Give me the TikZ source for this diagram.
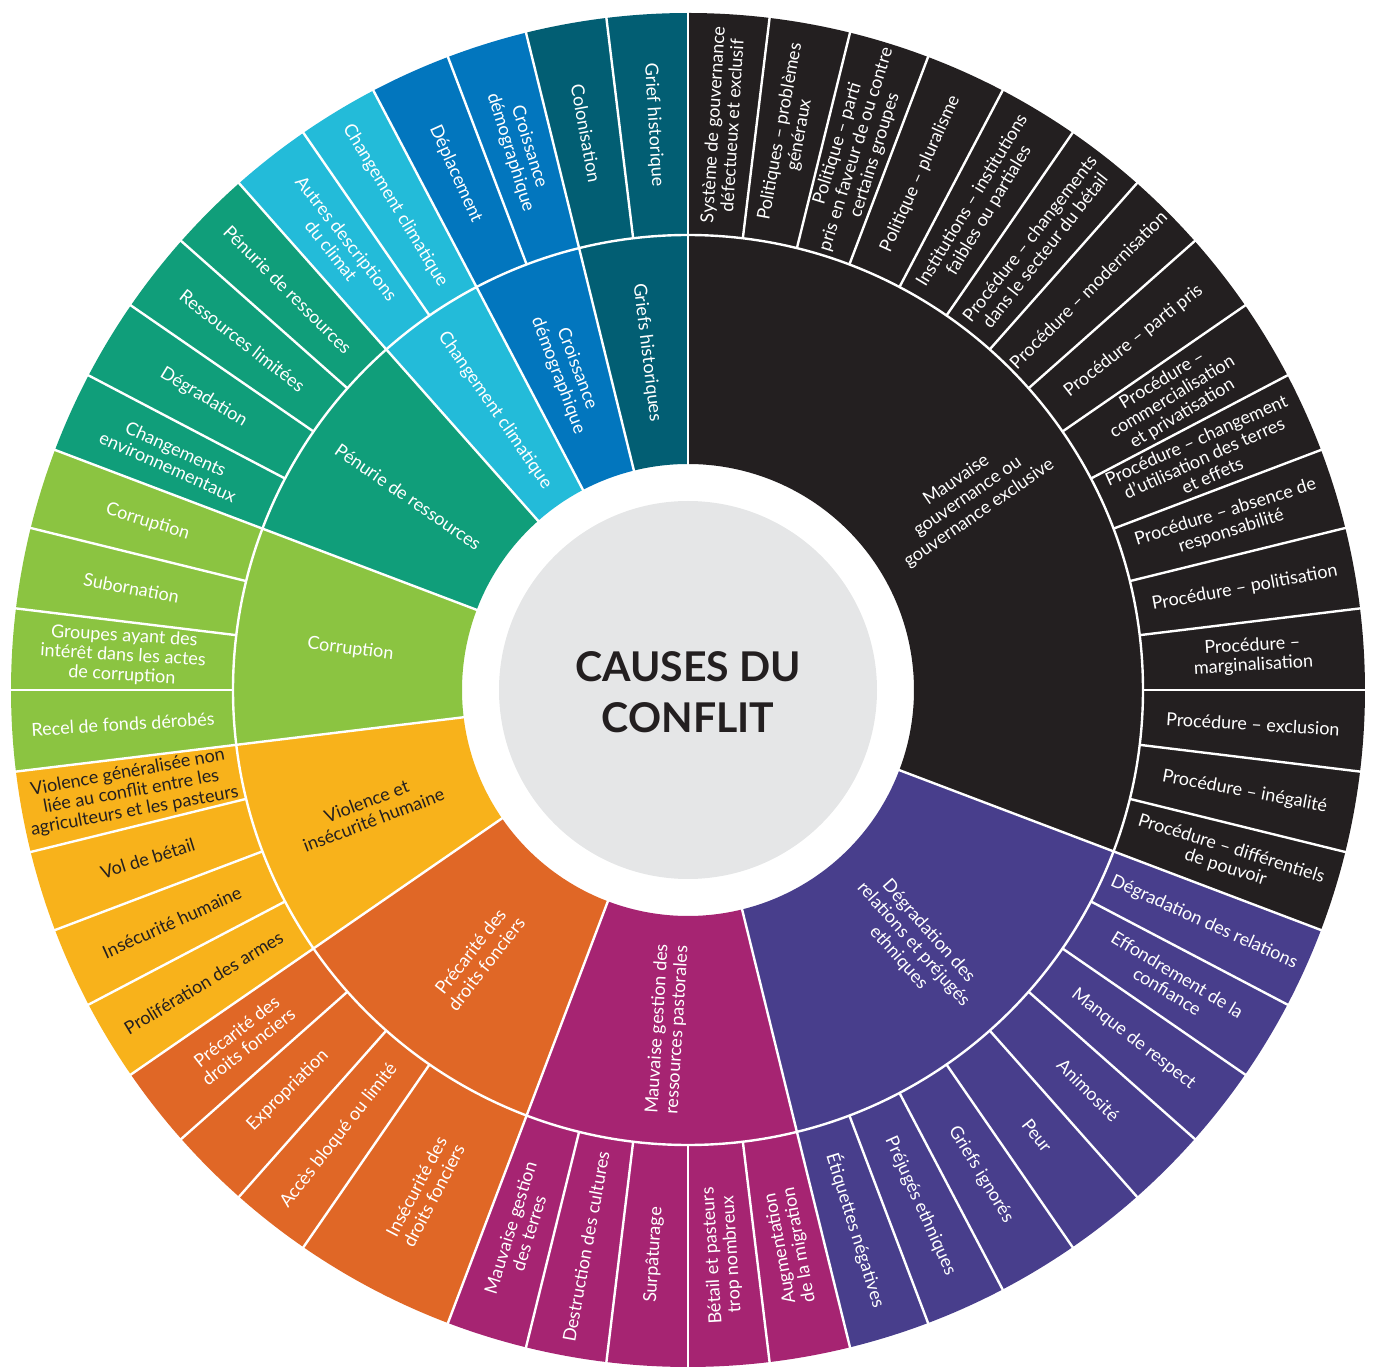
\documentclass[tikz,border=0pt]{standalone}
\usepackage{fontspec}
\setmainfont{Lato}
\definecolor{gov}{RGB}{35,31,32}
\definecolor{rel}{RGB}{72,62,140}
\definecolor{past}{RGB}{166,36,114}
\definecolor{land}{RGB}{224,103,38}
\definecolor{viol}{RGB}{248,178,27}
\definecolor{corr}{RGB}{139,196,65}
\definecolor{pen}{RGB}{16,158,122}
\definecolor{clim}{RGB}{35,187,217}
\definecolor{crois}{RGB}{2,118,190}
\definecolor{grief}{RGB}{2,94,115}
\definecolor{hubgray}{RGB}{229,230,231}
\definecolor{titlecol}{RGB}{35,31,32}
\def\U{6.9230769}
\tikzset{
 leaflab/.style={align=center, font=\fontsize{18}{19.5}\selectfont, inner sep=0pt},
 innerlab/.style={align=center, font=\fontsize{18}{20}\selectfont, inner sep=0pt},
 sepline/.style={white, line width=2.4pt},
}
\newcommand\seg[5]{\fill[#5] ({90-(#1)*\U}:#3) arc[start angle={90-(#1)*\U}, end angle={90-(#2)*\U}, radius=#3] -- ({90-(#2)*\U}:#4) arc[start angle={90-(#2)*\U}, end angle={90-(#1)*\U}, radius=#4] -- cycle;}
\newcommand\leaf[5]{\node[leaflab, text=#4, rotate={90-(#2)*\U+(#3)}] (#1) at ({90-(#2)*\U}:566pt) {#5};}
\newcommand\inlab[5]{\node[innerlab, text=#4, rotate={90-(#2)*\U+(#3)}] (#1) at ({90-(#2)*\U}:340pt) {#5};}
\begin{document}
\begin{tikzpicture}
\useasboundingbox (-688pt,-677pt) rectangle (687pt,690pt);
% sectors
\seg{0}{16}{226pt}{677pt}{gov}
\seg{16}{24}{226pt}{677pt}{rel}
\seg{24}{29}{226pt}{677pt}{past}
\seg{29}{34}{226pt}{677pt}{land}
\seg{34}{38}{226pt}{677pt}{viol}
\seg{38}{42}{226pt}{677pt}{corr}
\seg{42}{46}{226pt}{677pt}{pen}
\seg{46}{48}{226pt}{677pt}{clim}
\seg{48}{50}{226pt}{677pt}{crois}
\seg{50}{52}{226pt}{677pt}{grief}
% separators
\draw[sepline] (0,0) circle (455pt);
\foreach \u in {1,...,15,17,18,...,23,25,26,27,28,31,32,33,35,36,37,39,40,41,43,44,45,47,49,51}
  \draw[sepline] ({90-\u*\U}:455pt) -- ({90-\u*\U}:680pt);
\foreach \u in {0,16,24,29,34,38,42,46,48,50}
  \draw[sepline] ({90-\u*\U}:224pt) -- ({90-\u*\U}:680pt);
% hub
\node[circle, fill=hubgray, minimum size=378pt, inner sep=0pt] (hub) at (0,0) {};
\node[font=\fontsize{41}{51}\selectfont\bfseries, align=center, text=titlecol] (title) at (0,-2pt) {CAUSES DU\\CONFLIT};
% inner labels
\inlab{i1}{8}{0}{white}{Mauvaise\\gouvernance ou\\gouvernance exclusive}
\inlab{i2}{20}{0}{white}{Dégradation des\\relations et préjugés\\ethniques}
\inlab{i3}{26.5}{180}{white}{Mauvaise gestion des\\ressources pastorales}
\inlab{i4}{31.5}{180}{white}{Précarité des\\droits fonciers}
\inlab{i5}{36}{180}{gov}{Violence et\\insécurité humaine}
\inlab{i6}{40}{180}{white}{Corruption}
\inlab{i7}{44}{180}{white}{Pénurie de ressources}
\inlab{i8}{47}{180}{white}{Changement climatique}
\inlab{i9}{49}{180}{white}{Croissance\\démographique}
\inlab{i10}{51}{180}{white}{Griefs historiques}
% leaf labels
\leaf{l0}{0.5}{0}{white}{Système de gouvernance\\défectueux et exclusif}
\leaf{l1}{1.5}{0}{white}{Politiques – problèmes\\généraux}
\leaf{l2}{2.5}{0}{white}{Politique – parti\\pris en faveur de ou contre\\certains groupes}
\leaf{l3}{3.5}{0}{white}{Politique – pluralisme}
\leaf{l4}{4.5}{0}{white}{Institutions – institutions\\faibles ou partiales}
\leaf{l5}{5.5}{0}{white}{Procédure – changements\\dans le secteur du bétail}
\leaf{l6}{6.5}{0}{white}{Procédure – modernisation}
\leaf{l7}{7.5}{0}{white}{Procédure – parti pris}
\leaf{l8}{8.5}{0}{white}{Procédure –\\commercialisation\\et privatisation}
\leaf{l9}{9.5}{0}{white}{Procédure – changement\\d’utilisation des terres\\et effets}
\leaf{l10}{10.5}{0}{white}{Procédure – absence de\\responsabilité}
\leaf{l11}{11.5}{0}{white}{Procédure – politisation}
\leaf{l12}{12.5}{0}{white}{Procédure –\\marginalisation}
\leaf{l13}{13.5}{0}{white}{Procédure – exclusion}
\leaf{l14}{14.5}{0}{white}{Procédure – inégalité}
\leaf{l15}{15.5}{0}{white}{Procédure – différentiels\\de pouvoir}
\leaf{l16}{16.5}{0}{white}{Dégradation des relations}
\leaf{l17}{17.5}{0}{white}{Effondrement de la\\confiance}
\leaf{l18}{18.5}{0}{white}{Manque de respect}
\leaf{l19}{19.5}{0}{white}{Animosité}
\leaf{l20}{20.5}{0}{white}{Peur}
\leaf{l21}{21.5}{0}{white}{Griefs ignorés}
\leaf{l22}{22.5}{0}{white}{Préjugés ethniques}
\leaf{l23}{23.5}{0}{white}{Étiquettes négatives}
\leaf{l24}{24.5}{180}{white}{Augmentation\\de la migration}
\leaf{l25}{25.5}{180}{white}{Bétail et pasteurs\\trop nombreux}
\leaf{l26}{26.5}{180}{white}{Surpâturage}
\leaf{l27}{27.5}{180}{white}{Destruction des cultures}
\leaf{l28}{28.5}{180}{white}{Mauvaise gestion\\des terres}
\leaf{l29}{30}{180}{white}{Insécurité des\\droits fonciers}
\leaf{l31}{31.5}{180}{white}{Accès bloqué ou limité}
\leaf{l32}{32.5}{180}{white}{Expropriation}
\leaf{l33}{33.5}{180}{white}{Précarité des\\droits fonciers}
\leaf{l34}{34.5}{180}{gov}{Prolifération des armes}
\leaf{l35}{35.5}{180}{gov}{Insécurité humaine}
\leaf{l36}{36.5}{180}{gov}{Vol de bétail}
\leaf{l37}{37.5}{180}{gov}{Violence généralisée non\\liée au conflit entre les\\agriculteurs et les pasteurs}
\leaf{l38}{38.5}{180}{white}{Recel de fonds dérobés}
\leaf{l39}{39.5}{180}{white}{Groupes ayant des\\intérêt dans les actes\\de corruption}
\leaf{l40}{40.5}{180}{white}{Subornation}
\leaf{l41}{41.5}{180}{white}{Corruption}
\leaf{l42}{42.5}{180}{white}{Changements\\environnementaux}
\leaf{l43}{43.5}{180}{white}{Dégradation}
\leaf{l44}{44.5}{180}{white}{Ressources limitées}
\leaf{l45}{45.5}{180}{white}{Pénurie de ressources}
\leaf{l46}{46.5}{180}{white}{Autres descriptions\\du climat}
\leaf{l47}{47.5}{180}{white}{Changement climatique}
\leaf{l48}{48.5}{180}{white}{Déplacement}
\leaf{l49}{49.5}{180}{white}{Croissance\\démographique}
\leaf{l50}{50.5}{180}{white}{Colonisation}
\leaf{l51}{51.5}{180}{white}{Grief historique}
\end{tikzpicture}
\end{document}
